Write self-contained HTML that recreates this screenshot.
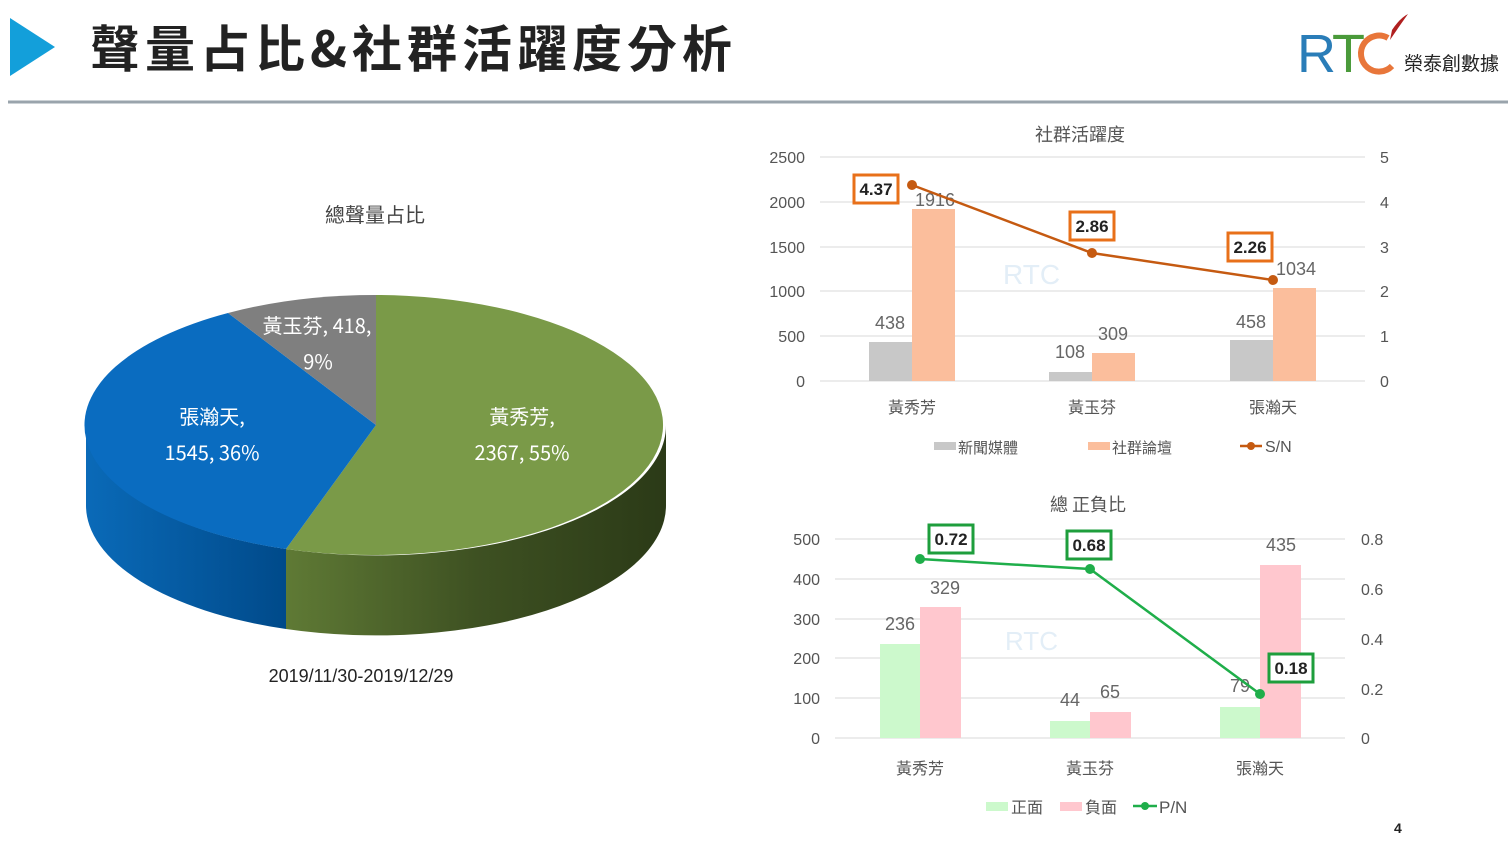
<!DOCTYPE html>
<html><head><meta charset="utf-8"><style>
body{margin:0;width:1508px;height:843px;background:#fff;overflow:hidden;font-family:"Liberation Sans","Noto Sans CJK TC",sans-serif}
</style></head><body>
<svg width="1508" height="843" xmlns="http://www.w3.org/2000/svg" font-family="Liberation Sans, Noto Sans CJK TC, sans-serif">
<defs>
<linearGradient id="gs" x1="0" x2="1"><stop offset="0" stop-color="#5f7a35"/><stop offset="0.5" stop-color="#3e5122"/><stop offset="1" stop-color="#2b3a17"/></linearGradient>
<linearGradient id="bs" x1="0" x2="1"><stop offset="0" stop-color="#0a6ab8"/><stop offset="1" stop-color="#004a8a"/></linearGradient>
</defs>
<polygon points="10,18 10,76 55,47" fill="#139fda"/>
<text x="90" y="67" font-size="50" font-weight="bold" fill="#222" letter-spacing="5" font-family="Noto Sans CJK TC, sans-serif">聲量占比&amp;社群活躍度分析</text>
<line x1="8" y1="102" x2="1508" y2="102" stroke="#9aa4ac" stroke-width="3"/>
<text x="1297" y="72" font-size="54" fill="#2a7db8" font-family="Liberation Sans">R</text>
<text x="1332" y="72" font-size="54" fill="#4a9a3a" font-family="Liberation Sans">T</text>
<path d="M1388,38 A18,18 0 1 0 1392,66" fill="none" stroke="#e8763a" stroke-width="6"/>
<path d="M1392,30 Q1400,18 1408,14 Q1398,28 1390,40 Z" fill="#b02020"/>
<text x="1404" y="70" font-size="19" fill="#222" font-family="Noto Sans CJK TC, sans-serif">榮泰創數據</text>

<text x="375" y="222" font-size="20" fill="#444" text-anchor="middle" font-family="Noto Sans CJK TC, sans-serif">總聲量占比</text>
<path d="M666,425 A290,130 0 0 1 286,549 L286,629 A290,130 0 0 0 666,505 Z" fill="url(#gs)"/>
<path d="M286,549 A290,130 0 0 1 86,425 L86,505 A290,130 0 0 0 286,629 Z" fill="url(#bs)"/>
<path d="M376,425 L376,295 A290,130 0 1 1 286,549 Z" fill="#7a9a48"/>
<path d="M376,425 L286,549 A290,130 0 0 1 228,313 Z" fill="#0a6cc0"/>
<path d="M376,425 L228,313 A290,130 0 0 1 376,295 Z" fill="#7f7f7f"/>
<g font-size="20" fill="#fff" text-anchor="middle" font-family="Noto Sans CJK TC, sans-serif">
<text x="317" y="333">黃玉芬, 418,</text><text x="318" y="369">9%</text>
<text x="212" y="424">張瀚天,</text><text x="212" y="460">1545, 36%</text>
<text x="522" y="424">黃秀芳,</text><text x="522" y="460">2367, 55%</text>
</g>
<text x="361" y="682" font-size="18" fill="#222" text-anchor="middle">2019/11/30-2019/12/29</text>

<text x="1080" y="141" font-size="18" fill="#555" text-anchor="middle" font-family="Noto Sans CJK TC, sans-serif">社群活躍度</text>
<g stroke="#d9d9d9" stroke-width="1">
<line x1="820" x2="1365" y1="157" y2="157"/><line x1="820" x2="1365" y1="202" y2="202"/><line x1="820" x2="1365" y1="247" y2="247"/><line x1="820" x2="1365" y1="291" y2="291"/><line x1="820" x2="1365" y1="336" y2="336"/><line x1="820" x2="1365" y1="381" y2="381"/>
</g>
<g font-size="16" fill="#555" text-anchor="end">
<text x="805" y="163">2500</text><text x="805" y="208">2000</text><text x="805" y="253">1500</text><text x="805" y="297">1000</text><text x="805" y="342">500</text><text x="805" y="387">0</text>
</g>
<g font-size="16" fill="#555">
<text x="1380" y="163">5</text><text x="1380" y="208">4</text><text x="1380" y="253">3</text><text x="1380" y="297">2</text><text x="1380" y="342">1</text><text x="1380" y="387">0</text>
</g>
<text x="1003" y="284" font-size="28" fill="#e3eef7">RTC</text>
<g fill="#c8c8c8"><rect x="869" y="342" width="43" height="39"/><rect x="1049" y="372" width="43" height="9"/><rect x="1230" y="340" width="43" height="41"/></g>
<g fill="#fbbe9c"><rect x="912" y="209" width="43" height="172"/><rect x="1092" y="353" width="43" height="28"/><rect x="1273" y="288" width="43" height="93"/></g>
<g font-size="18" fill="#666" text-anchor="middle">
<text x="890" y="329">438</text><text x="935" y="206">1916</text><text x="1070" y="358">108</text><text x="1113" y="340">309</text><text x="1251" y="328">458</text><text x="1296" y="275">1034</text>
</g>
<polyline points="912,185 1092,253 1273,280" fill="none" stroke="#c55a11" stroke-width="2.5"/>
<g fill="#c55a11"><circle cx="912" cy="185" r="5"/><circle cx="1092" cy="253" r="5"/><circle cx="1273" cy="280" r="5"/></g>
<g stroke="#e8701a" stroke-width="3" fill="#fff"><rect x="854" y="175" width="44" height="28"/><rect x="1070" y="212" width="44" height="28"/><rect x="1228" y="233" width="44" height="28"/></g>
<g font-size="17" font-weight="bold" fill="#222" text-anchor="middle"><text x="876" y="195">4.37</text><text x="1092" y="232">2.86</text><text x="1250" y="253">2.26</text></g>
<g font-size="16" fill="#555" text-anchor="middle" font-family="Noto Sans CJK TC, sans-serif"><text x="912" y="413">黃秀芳</text><text x="1092" y="413">黃玉芬</text><text x="1273" y="413">張瀚天</text></g>
<rect x="934" y="442" width="22" height="8" fill="#c8c8c8"/><text x="958" y="453" font-size="15" fill="#555" font-family="Noto Sans CJK TC, sans-serif">新聞媒體</text>
<rect x="1088" y="442" width="22" height="8" fill="#fbbe9c"/><text x="1112" y="453" font-size="15" fill="#555" font-family="Noto Sans CJK TC, sans-serif">社群論壇</text>
<line x1="1240" y1="446" x2="1262" y2="446" stroke="#c55a11" stroke-width="2.5"/><circle cx="1251" cy="446" r="4" fill="#c55a11"/><text x="1265" y="452" font-size="16" fill="#555">S/N</text>

<text x="1088" y="511" font-size="18" fill="#555" text-anchor="middle" font-family="Noto Sans CJK TC, sans-serif">總 正負比</text>
<g stroke="#d9d9d9" stroke-width="1">
<line x1="835" x2="1345" y1="539" y2="539"/><line x1="835" x2="1345" y1="579" y2="579"/><line x1="835" x2="1345" y1="619" y2="619"/><line x1="835" x2="1345" y1="658" y2="658"/><line x1="835" x2="1345" y1="698" y2="698"/><line x1="835" x2="1345" y1="738" y2="738"/>
</g>
<g font-size="16" fill="#555" text-anchor="end">
<text x="820" y="545">500</text><text x="820" y="585">400</text><text x="820" y="625">300</text><text x="820" y="664">200</text><text x="820" y="704">100</text><text x="820" y="744">0</text>
</g>
<g font-size="16" fill="#555">
<text x="1361" y="545">0.8</text><text x="1361" y="595">0.6</text><text x="1361" y="645">0.4</text><text x="1361" y="695">0.2</text><text x="1361" y="744">0</text>
</g>
<text x="1005" y="650" font-size="26" fill="#e3eef7">RTC</text>
<g fill="#ccf9cc"><rect x="880" y="644" width="40" height="94"/><rect x="1050" y="721" width="40" height="17"/><rect x="1220" y="707" width="40" height="31"/></g>
<g fill="#ffc7ce"><rect x="920" y="607" width="41" height="131"/><rect x="1090" y="712" width="41" height="26"/><rect x="1260" y="565" width="41" height="173"/></g>
<g font-size="18" fill="#666" text-anchor="middle">
<text x="900" y="630">236</text><text x="945" y="594">329</text><text x="1070" y="706">44</text><text x="1110" y="698">65</text><text x="1240" y="692">79</text><text x="1281" y="551">435</text>
</g>
<polyline points="920,559 1090,569 1260,694" fill="none" stroke="#1fae4a" stroke-width="2.5"/>
<g fill="#1fae4a"><circle cx="920" cy="559" r="5"/><circle cx="1090" cy="569" r="5"/><circle cx="1260" cy="694" r="5"/></g>
<g stroke="#1e9e3c" stroke-width="3" fill="#fff"><rect x="929" y="525" width="44" height="28"/><rect x="1067" y="531" width="44" height="28"/><rect x="1269" y="654" width="44" height="28"/></g>
<g font-size="17" font-weight="bold" fill="#222" text-anchor="middle"><text x="951" y="545">0.72</text><text x="1089" y="551">0.68</text><text x="1291" y="674">0.18</text></g>
<g font-size="16" fill="#555" text-anchor="middle" font-family="Noto Sans CJK TC, sans-serif"><text x="920" y="774">黃秀芳</text><text x="1090" y="774">黃玉芬</text><text x="1260" y="774">張瀚天</text></g>
<rect x="986" y="802" width="22" height="9" fill="#ccf9cc"/><text x="1011" y="813" font-size="16" fill="#555" font-family="Noto Sans CJK TC, sans-serif">正面</text>
<rect x="1060" y="802" width="22" height="9" fill="#ffc7ce"/><text x="1085" y="813" font-size="16" fill="#555" font-family="Noto Sans CJK TC, sans-serif">負面</text>
<line x1="1133" y1="806" x2="1157" y2="806" stroke="#1fae4a" stroke-width="2.5"/><circle cx="1145" cy="806" r="4" fill="#1fae4a"/><text x="1159" y="813" font-size="17" fill="#555">P/N</text>
<text x="1394" y="833" font-size="14" font-weight="bold" fill="#222">4</text>
</svg>
</body></html>
